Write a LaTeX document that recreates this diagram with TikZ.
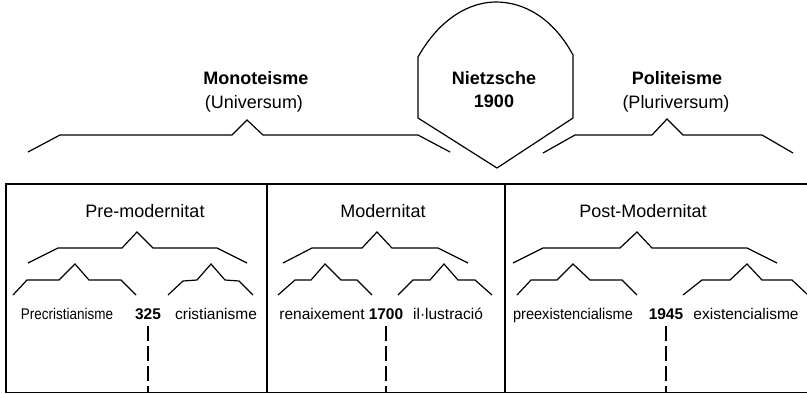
\documentclass[tikz,border=0pt]{standalone}
\usepackage{fontspec}
\setmainfont{Liberation Sans}
\begin{document}
\begin{tikzpicture}[x=1pt, y=-1pt, line width=1.2pt, line join=miter,
  head/.style={font=\fontsize{18}{20}\selectfont\bfseries, inner sep=0pt, anchor=base},
  sub/.style={font=\fontsize{18}{20}\selectfont, inner sep=0pt, anchor=base},
  era/.style={font=\fontsize{18}{20}\selectfont, inner sep=0pt, anchor=base},
  lab/.style={font=\fontsize{15.5}{17}\selectfont, inner sep=0pt, anchor=base},
  year/.style={font=\fontsize{15.5}{17}\selectfont\bfseries, inner sep=0pt, anchor=base},
  bracket/.style={line width=1.2pt},
  cut/.style={line width=1.2pt, dash pattern=on 15pt off 5pt}]
\useasboundingbox (0,0) rectangle (807,394);

% corners of the period table
\coordinate (tl) at (6,184);
\coordinate (tr) at (807,184);
\coordinate (bl) at (6,392.5);
\coordinate (br) at (807,392.5);

% --- Nietzsche hexagon ---
\draw (418,118) -- (418,57) .. controls (440,18) and (470,2) .. (496,2)
      .. controls (524,2) and (553,18) .. (573,55) -- (573,118) -- (497,168) -- cycle;
\node[head] (nietzsche) at (494,84) {Nietzsche};
\node[head] (y1900) at (494,107) {1900};

% --- upper headings ---
\node[head] (mono) at (256,84) {Monoteisme};
\node[sub] (univ) at (254,108) {(Universum)};
\node[head] (poli) at (677,84) {Politeisme};
\node[sub] (pluri) at (676,108) {(Pluriversum)};

% --- upper brackets ---
\draw[bracket] (28,152) -- (60,135) -- (232,135) -- (247,120) -- (263,135) -- (418,135) -- (450,152);
\draw[bracket] (543,153) -- (575,135) -- (652,135) -- (667,119) -- (683,135) -- (762,135) -- (793,153);

% --- table frame and column dividers ---
\coordinate (d1top) at (267,184);
\coordinate (d2top) at (505,184);
\draw (tr) -- (tl) -- (bl) -- (br);
\draw (d1top) -- (d1top |- bl);
\draw (d2top) -- (d2top |- bl);

% --- column titles ---
\node[era] (premod) at (145,217) {Pre-modernitat};
\node[era] (mod) at (383,217) {Modernitat};
\node[era] (postmod) at (643,217) {Post-Modernitat};

% --- middle brackets ---
\draw[bracket] (28,263) -- (58,248) -- (122,248) -- (137,232) -- (153,248) -- (217,248) -- (247,263);
\draw[bracket] (283,263) -- (312,248) -- (362,248) -- (377,232) -- (392,248) -- (438,248) -- (468,263);
\draw[bracket] (513,263) -- (543,248) -- (620,248) -- (637,232) -- (652,248) -- (747,248) -- (777,263);

% --- small brackets ---
\draw[bracket] (13,295) -- (27,280) -- (59,280) -- (75,264) -- (89,280) -- (121,280) -- (136,295);
\draw[bracket] (168,295) -- (183,281) -- (197,280) -- (211,264) -- (225,280) -- (239,281) -- (253,295);
\draw[bracket] (278,295) -- (295,280) -- (311,280) -- (325,264) -- (341,280) -- (357,280) -- (372,295);
\draw[bracket] (398,295) -- (413,280) -- (430,280) -- (444,264) -- (458,280) -- (475,280) -- (492,295);
\draw[bracket] (517,295) -- (531,280) -- (557,280) -- (573,264) -- (590,280) -- (622,280) -- (637,295);
\draw[bracket] (683,295) -- (702,280) -- (730,280) -- (747,264) -- (762,280) -- (792,280) -- (808,295);

% --- period labels and dates ---
\node[lab] (precris) at (67,319) {\addfontfeature{FakeStretch=0.87}Precristianisme};
\node[year] (y325) at (148,319) {325};
\node[lab] (cris) at (216,319) {cristianisme};
\node[lab] (renai) at (322,319) {renaixement};
\node[year] (y1700) at (386,319) {1700};
\node[lab] (illus) at (448,319) {il·lustració};
\node[lab] (preex) at (573,319) {\addfontfeature{FakeStretch=0.94}preexistencialisme};
\node[year] (y1945) at (666,319) {1945};
\node[lab] (exis) at (746,319) {existencialisme};

% --- dashed cuts below the dates ---
\draw[cut] ([yshift=-7pt]y325.base) -- (y325.base |- bl);
\draw[cut] ([yshift=-7pt]y1700.base) -- (y1700.base |- bl);
\draw[cut] ([yshift=-7pt]y1945.base) -- (y1945.base |- bl);
\end{tikzpicture}
\end{document}
